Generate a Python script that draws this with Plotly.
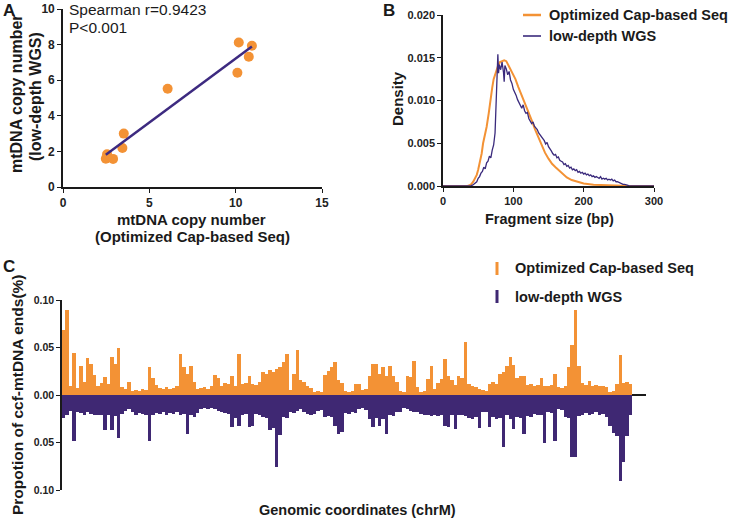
import numpy as np
import plotly.graph_objects as go

# ---------------- Panel A data ----------------
cap_copy = [2.48, 2.55, 2.90, 3.44, 3.52, 6.06, 10.10, 10.18, 10.76, 10.94]
wgs_copy = [1.59, 1.84, 1.58, 2.19, 3.00, 5.52, 6.42, 8.12, 7.32, 7.94]

# ---------------- Panel B data ----------------
cap_size = [0, 30, 35, 38, 40, 43, 45, 48, 50, 53, 55, 57, 60, 62, 65, 67, 70, 72, 75, 78,
            81, 84, 87, 90, 93, 96, 100, 103, 107, 112, 117, 122, 126, 131, 136, 141, 145,
            150, 155, 160, 165, 170, 176, 183, 190, 200, 214, 233, 252, 265, 300]
cap_density = [0, 0, 0, 0.0001, 0.0002, 0.0005, 0.0008, 0.0013, 0.0019, 0.003, 0.0038, 0.005,
               0.006, 0.0069, 0.0085, 0.0100, 0.0115, 0.0125, 0.0133, 0.0140, 0.0145, 0.0146,
               0.0147, 0.0146, 0.0141, 0.0136, 0.0130, 0.0125, 0.0116, 0.0106, 0.0096, 0.0087,
               0.0077, 0.0066, 0.0056, 0.0046, 0.0039, 0.0032, 0.0026, 0.0022, 0.0018, 0.0014,
               0.0010, 0.0007, 0.0005, 0.0003, 0.00015, 0.0001, 0.00004, 0, 0]

wgs_size = [0, 30, 34, 38, 40, 42, 44, 46, 48, 50, 52, 54, 56, 58, 60, 62, 64, 66, 68, 70, 72,
            74, 76, 77, 78, 79, 80, 82, 84, 86, 87, 88, 90, 92, 94, 96, 98, 100, 102, 104, 106,
            108, 110, 112, 114, 116, 118, 120, 122, 124, 126, 128, 130, 132, 134, 136, 138,
            140, 142, 144, 146, 148, 150, 152, 154, 156, 158, 160, 162, 164, 166, 168, 170,
            172, 174, 176, 178, 180, 182, 184, 186, 188, 190, 192, 194, 196, 198, 200, 202,
            204, 206, 208, 210, 212, 214, 216, 218, 220, 222, 224, 226, 228, 230, 232, 234,
            236, 238, 240, 242, 244, 246, 248, 250, 252, 254, 256, 258, 260, 262, 264, 266,
            270, 300]
wgs_density = [0, 0, 0, 0, 0.00005, 0.0001, 0.0002, 0.0004, 0.0005, 0.0009, 0.0011, 0.0015,
               0.0017, 0.0022, 0.0020, 0.0027, 0.0029, 0.0035, 0.0033, 0.0042, 0.0048, 0.0062,
               0.0108, 0.0125, 0.0154, 0.0132, 0.0142, 0.0136, 0.0145, 0.0133, 0.0122, 0.0141,
               0.0137, 0.0130, 0.0134, 0.0124, 0.0120, 0.0113, 0.0110, 0.0106, 0.0101, 0.0098,
               0.0094, 0.0091, 0.0095, 0.0088, 0.0085, 0.0086, 0.0079, 0.0076, 0.0073, 0.0075,
               0.0070, 0.0068, 0.0066, 0.0062, 0.0060, 0.0057, 0.0055, 0.0053, 0.0049, 0.0051,
               0.0046, 0.0044, 0.0041, 0.0038, 0.0036, 0.0037, 0.0033, 0.0034, 0.0030, 0.0029,
               0.0028, 0.0025, 0.0026, 0.0023, 0.0024, 0.0021, 0.0022, 0.0019, 0.0020, 0.0018,
               0.0019, 0.0016, 0.0017, 0.0015, 0.0016, 0.0014, 0.0015, 0.0013, 0.0014, 0.0012,
               0.0013, 0.0011, 0.0012, 0.0010, 0.0011, 0.0010, 0.0009, 0.0011, 0.0008, 0.0009,
               0.0008, 0.0009, 0.0007, 0.0008, 0.0007, 0.0008, 0.0006, 0.0007, 0.0005, 0.0005,
               0.0004, 0.0003, 0.0003, 0.0002, 0.0002, 0.0001, 0.0001, 0.00005, 0, 0, 0]

# ---------------- Panel C data (100-bp bins along chrM) ----------------
bin_start = list(range(0, 16600, 100))
cap_ends = [0.068, 0.090, 0.010, 0.044, 0.007, 0.031, 0.014, 0.039, 0.033, 0.021,
            0.010, 0.013, 0.019, 0.012, 0.040, 0.033, 0.049, 0.008, 0.006, 0.014,
            0.004, 0.005, 0.004, 0.006, 0.005, 0.029, 0.018, 0.011, 0.007, 0.006,
            0.008, 0.006, 0.007, 0.009, 0.043, 0.029, 0.022, 0.031, 0.014, 0.006,
            0.007, 0.008, 0.006, 0.009, 0.021, 0.018, 0.010, 0.013, 0.012, 0.020,
            0.010, 0.043, 0.012, 0.013, 0.020, 0.012, 0.011, 0.014, 0.024, 0.022,
            0.026, 0.024, 0.027, 0.030, 0.035, 0.043, 0.005, 0.022, 0.047, 0.016,
            0.014, 0.009, 0.007, 0.003, 0.004, 0.003, 0.021, 0.025, 0.030, 0.035,
            0.016, 0.013, 0.004, 0.003, 0.004, 0.012, 0.012, 0.005, 0.006, 0.020,
            0.033, 0.033, 0.022, 0.029, 0.020, 0.031, 0.020, 0.014, 0.004, 0.003,
            0.020, 0.019, 0.036, 0.008, 0.003, 0.004, 0.017, 0.031, 0.006, 0.013,
            0.017, 0.038, 0.020, 0.016, 0.011, 0.020, 0.018, 0.056, 0.012, 0.010,
            0.008, 0.006, 0.005, 0.004, 0.012, 0.014, 0.012, 0.022, 0.024, 0.031,
            0.040, 0.032, 0.018, 0.020, 0.020, 0.011, 0.012, 0.010, 0.011, 0.018,
            0.010, 0.009, 0.011, 0.022, 0.008, 0.007, 0.009, 0.030, 0.053, 0.089,
            0.031, 0.013, 0.011, 0.015, 0.010, 0.011, 0.009, 0.010, 0.008, 0.003,
            0.004, 0.012, 0.042, 0.013, 0.014, 0.012]
wgs_ends = [0.024, 0.021, 0.017, 0.048, 0.018, 0.019, 0.021, 0.018, 0.020, 0.021,
            0.021, 0.021, 0.037, 0.021, 0.037, 0.022, 0.045, 0.020, 0.017, 0.015,
            0.018, 0.021, 0.019, 0.020, 0.021, 0.048, 0.021, 0.019, 0.020, 0.018,
            0.021, 0.019, 0.020, 0.018, 0.021, 0.020, 0.041, 0.021, 0.023, 0.019,
            0.015, 0.014, 0.015, 0.014, 0.015, 0.017, 0.018, 0.019, 0.020, 0.034,
            0.024, 0.033, 0.021, 0.020, 0.034, 0.033, 0.020, 0.021, 0.023, 0.024,
            0.037, 0.035, 0.076, 0.042, 0.023, 0.024, 0.018, 0.019, 0.017, 0.015,
            0.018, 0.020, 0.021, 0.020, 0.017, 0.016, 0.023, 0.022, 0.023, 0.033,
            0.041, 0.039, 0.019, 0.020, 0.018, 0.019, 0.015, 0.014, 0.016, 0.025,
            0.034, 0.024, 0.033, 0.025, 0.041, 0.021, 0.022, 0.018, 0.018, 0.014,
            0.015, 0.017, 0.018, 0.018, 0.020, 0.021, 0.021, 0.022, 0.021, 0.022,
            0.021, 0.033, 0.034, 0.021, 0.036, 0.021, 0.021, 0.022, 0.024, 0.025,
            0.023, 0.035, 0.018, 0.018, 0.034, 0.023, 0.025, 0.024, 0.055, 0.021,
            0.025, 0.036, 0.023, 0.024, 0.041, 0.022, 0.023, 0.020, 0.021, 0.021,
            0.051, 0.018, 0.019, 0.048, 0.015, 0.016, 0.023, 0.024, 0.065, 0.065,
            0.022, 0.021, 0.019, 0.021, 0.020, 0.018, 0.021, 0.020, 0.023, 0.033,
            0.040, 0.043, 0.090, 0.070, 0.043, 0.021]
c_yticks = [-0.10, -0.05, 0.0, 0.05, 0.10]
c_yticktext = ["0.10", "0.05", "0.00", "0.05", "0.10"]

ORANGE = "#F39235"
PURPLE = "#3F2873"
FONT = "Liberation Sans"
W, H = 732, 520


def px(x):
    return x / W


def py(y):
    return 1 - y / H


fig = go.Figure()

# Panel A
fit = np.polyfit(cap_copy, wgs_copy, 1)
xl = np.array([min(cap_copy), max(cap_copy)])
fig.add_trace(go.Scatter(x=cap_copy, y=wgs_copy, mode="markers", xaxis="x", yaxis="y",
                         marker=dict(color=ORANGE, size=10, line=dict(width=0)), showlegend=False))
fig.add_trace(go.Scatter(x=xl, y=np.polyval(fit, xl), mode="lines", xaxis="x", yaxis="y",
                         line=dict(color="#3D2A80", width=2.5), showlegend=False))

# Panel B
fig.add_trace(go.Scatter(x=cap_size, y=cap_density, mode="lines", xaxis="x2", yaxis="y2",
                         line=dict(color=ORANGE, width=2), showlegend=False))
fig.add_trace(go.Scatter(x=wgs_size, y=wgs_density, mode="lines", xaxis="x2", yaxis="y2",
                         line=dict(color="#3A2A7C", width=1.3), showlegend=False))

# Panel C
centers = [b + 50 for b in bin_start]
fig.add_trace(go.Bar(x=centers, y=cap_ends, width=100, xaxis="x3", yaxis="y3",
                     marker=dict(color=ORANGE, line=dict(width=0)), showlegend=False))
fig.add_trace(go.Bar(x=centers, y=[-v for v in wgs_ends], width=100, xaxis="x3", yaxis="y3",
                     marker=dict(color=PURPLE, line=dict(width=0)), showlegend=False))

tickA = dict(family=FONT, size=12, color="#222", weight="bold")
tickB = dict(family=FONT, size=11, color="#222", weight="bold")
tickC = dict(family=FONT, size=10.5, color="#222", weight="bold")
axis_common = dict(showgrid=False, zeroline=False, showline=True, linecolor="#1a1a1a",
                   linewidth=1.6, ticks="outside", ticklen=4, tickwidth=1.4, tickcolor="#1a1a1a",
                   automargin=False)

fig.update_layout(
    width=W, height=H, autosize=False,
    margin=dict(l=0, r=0, t=0, b=0, autoexpand=False),
    paper_bgcolor="white", plot_bgcolor="white",
    barmode="overlay", bargap=0,
    xaxis=dict(domain=[px(63), px(322)], range=[0, 15], tickvals=[0, 5, 10, 15],
               anchor="y", tickfont=tickA, **axis_common),
    yaxis=dict(domain=[py(187), py(9)], range=[0, 10], tickvals=[0, 2, 4, 6, 8, 10],
               anchor="x", tickfont=tickA, **axis_common),
    xaxis2=dict(domain=[px(443), px(654)], range=[0, 300], tickvals=[0, 100, 200, 300],
                anchor="y2", tickfont=tickB, **axis_common),
    yaxis2=dict(domain=[py(186), py(15)], range=[0, 0.02],
                tickvals=[0, 0.005, 0.01, 0.015, 0.02], tickformat=".3f",
                anchor="x2", tickfont=tickB, **axis_common),
    xaxis3=dict(domain=[px(62), px(646)], range=[0, 17000], anchor="y3", automargin=False,
                showgrid=False, zeroline=False, showline=False, showticklabels=False, ticks=""),
    yaxis3=dict(domain=[py(490), py(300)], range=[-0.10, 0.10], tickvals=c_yticks,
                ticktext=c_yticktext, anchor="x3", tickfont=tickC, automargin=False,
                showgrid=False, zeroline=True, zerolinecolor="#1a1a1a", zerolinewidth=1.5,
                showline=True, linecolor="#1a1a1a", linewidth=1.6, ticks="outside",
                ticklen=4, tickwidth=1.4, tickcolor="#1a1a1a"),
)

ann = []


def add_text(text, x, y, size, bold=True, angle=0, xanchor="center", color="#1a1a1a"):
    ann.append(dict(text=text, x=px(x), y=py(y), xref="paper", yref="paper",
                    showarrow=False, xanchor=xanchor, yanchor="middle", textangle=angle,
                    font=dict(family=FONT, size=size, color=color,
                              weight="bold" if bold else "normal")))


# panel letters
add_text("A", 1, 10, 17, xanchor="left")
add_text("B", 381, 10, 17, xanchor="left")
add_text("C", 1, 266, 17, xanchor="left")

# Panel A texts
add_text("Spearman r=0.9423", 67, 9, 15.5, bold=False, xanchor="left")
add_text("P<0.001", 67, 27, 15.5, bold=False, xanchor="left")
add_text("mtDNA copy number", 191, 219, 15)
add_text("(Optimized Cap-based Seq)", 192, 237, 15)
add_text("mtDNA copy number", 16, 94, 16, angle=-90)
add_text("(low-depth WGS)", 35, 97, 16, angle=-90)

# Panel B texts
add_text("Density", 397, 99, 15, angle=-90)
add_text("Fragment size (bp)", 549, 219, 14.5)
add_text("Optimized Cap-based Seq", 547, 15, 14.5, xanchor="left")
add_text("low-depth WGS", 547, 36, 14.5, xanchor="left")

# Panel C texts
add_text("Propotion of ccf-mtDNA ends(%)", 17, 395, 15.5, angle=-90)
add_text("Genomic coordinates (chrM)", 357, 510, 14.5)
add_text("Optimized Cap-based Seq", 513, 268, 14.5, xanchor="left")
add_text("low-depth WGS", 513, 297, 14.5, xanchor="left")

fig.update_layout(annotations=ann)

shapes = [
    dict(type="line", xref="paper", yref="paper", x0=px(523), x1=px(541), y0=py(15), y1=py(15),
         line=dict(color=ORANGE, width=2.5)),
    dict(type="line", xref="paper", yref="paper", x0=px(523), x1=px(541), y0=py(36), y1=py(36),
         line=dict(color="#3A2A7C", width=1.6)),
    dict(type="rect", xref="paper", yref="paper", x0=px(495.5), x1=px(498.5), y0=py(275), y1=py(262),
         fillcolor=ORANGE, line=dict(width=0)),
    dict(type="rect", xref="paper", yref="paper", x0=px(495.5), x1=px(498.5), y0=py(303), y1=py(290),
         fillcolor=PURPLE, line=dict(width=0)),
]
fig.update_layout(shapes=shapes)

fig.write_html("out.html", config={"displayModeBar": False},
               post_script="document.body.style.margin='0px';document.body.style.overflow='hidden';")
